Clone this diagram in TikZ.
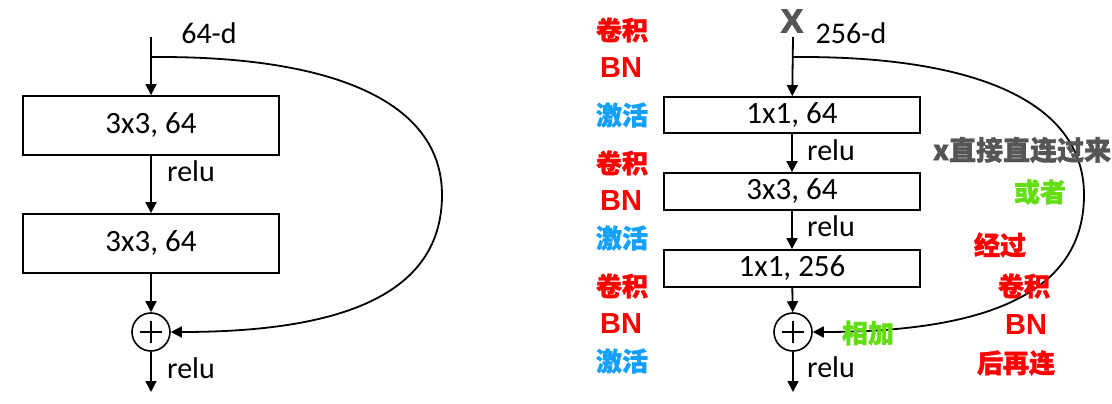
\documentclass[tikz,border=0pt]{standalone}
\usepackage{fontspec}
\setmainfont{Carlito}
\newfontfamily\cjk{Noto Sans CJK SC}[BoldFeatures={FakeBold=1.4}]
\newfontfamily\arialb{Liberation Sans}
\newfontfamily\heavy{Liberation Sans}[BoldFeatures={FakeBold=3}]
\usetikzlibrary{arrows.meta,calc}
\definecolor{ared}{RGB}{255,0,0}
\definecolor{ablue}{RGB}{20,160,255}
\definecolor{agreen}{RGB}{100,222,20}
\definecolor{agray}{RGB}{85,85,85}
\begin{document}
\begin{tikzpicture}[x=1pt,y=-1pt,
  blk/.style={draw,line width=1.8pt,minimum width=256pt,inner sep=0pt,font=\fontsize{31}{33}\selectfont},
  sumc/.style={draw,circle,line width=1.6pt,minimum size=38pt,inner sep=0pt},
  lab/.style={font=\fontsize{30}{32}\selectfont,inner sep=0pt},
  ann/.style={font=\cjk\bfseries\fontsize{26}{28}\selectfont,inner sep=0pt},
  bn/.style={font=\arialb\bfseries\fontsize{29}{31}\selectfont,inner sep=0pt},
  bigx/.style={font=\heavy\bfseries\fontsize{33}{35}\selectfont,inner sep=0pt,text=agray},
  conn/.style={line width=1.8pt,-{Triangle[length=11pt,width=11pt]}},
  curv/.style={line width=1.8pt}]
\useasboundingbox (0,0) rectangle (1112,404);
% ---------- left block ----------
\coordinate (lin) at (151,37);
\coordinate (lbr) at (151,57);
\node[blk,minimum height=59pt] (lb1) at (151,125.5) {3x3, 64};
\node[blk,minimum height=59pt] (lb2) at (151,243.5) {3x3, 64};
\node[sumc] (ls) at (151,332) {};
\coordinate (lout) at (151,392);
\node[lab] (l64) at (209,33) {64-d};
\node[lab] (lr1) at (191,171) {relu};
\node[lab] (lr2) at (191,368) {relu};
\draw[conn] (lin) -- (lb1);
\draw[conn] (lb1) -- (lb2);
\draw[conn] (lb2) -- (ls);
\draw[conn] (ls) -- (lout);
\draw[curv,-{Triangle[length=11pt,width=11pt]}] (lbr) -- (160,57) .. controls (330,57) and (442,100) .. (442,195) .. controls (442,300) and (330,332) .. (ls.east);
\draw[line width=1.6pt] ($(ls.center)+(-11,0)$) -- ($(ls.center)+(11,0)$);
\draw[line width=1.6pt] ($(ls.center)+(0,-11)$) -- ($(ls.center)+(0,11)$);
% ---------- right block ----------
\node[bigx] (X) at (792,21) {X};
\coordinate (rin) at (793,37);
\coordinate (rbr) at (793,57);
\node[blk,minimum height=36pt] (rb1) at (792,115) {1x1, 64};
\node[blk,minimum height=37pt] (rb2) at (792,191.5) {3x3, 64};
\node[blk,minimum height=37pt] (rb3) at (792,268.5) {1x1, 256};
\node[sumc] (rs) at (793,332) {};
\coordinate (rout) at (793,392);
\node[lab] (r256) at (851,33) {256-d};
\node[lab] (rr1) at (831,150) {relu};
\node[lab] (rr2) at (831,226) {relu};
\node[lab] (rr3) at (831,367) {relu};
\draw[conn] (rin) -- (rb1);
\draw[conn] (rb1) -- (rb2);
\draw[conn] (rb2) -- (rb3);
\draw[conn] (rb3) -- (rs);
\draw[conn] (rs) -- (rout);
\draw[curv,-{Triangle[length=11pt,width=11pt]}] (rbr) -- (802,57) .. controls (972,57) and (1084,100) .. (1084,195) .. controls (1084,300) and (972,332) .. (rs.east);
\draw[line width=1.6pt] ($(rs.center)+(-11,0)$) -- ($(rs.center)+(11,0)$);
\draw[line width=1.6pt] ($(rs.center)+(0,-11)$) -- ($(rs.center)+(0,11)$);
% ---------- annotations ----------
\node[ann,text=ared] (a1) at (622,30) {卷积};
\node[bn,text=ared] (a2) at (621,68) {BN};
\node[ann,text=ablue] (a3) at (622,115) {激活};
\node[ann,text=ared] (a4) at (622,163) {卷积};
\node[bn,text=ared] (a5) at (621,201) {BN};
\node[ann,text=ablue] (a6) at (622,238) {激活};
\node[ann,text=ared] (a7) at (622,286) {卷积};
\node[bn,text=ared] (a8) at (621,324) {BN};
\node[ann,text=ablue] (a9) at (622,361) {激活};
\node[ann,text=agreen] (b1) at (868,333) {相加};
\node[ann,text=agray,font=\cjk\bfseries\fontsize{27}{29}\selectfont] (b2) at (1022,150) {x直接直连过来};
\node[ann,text=agreen] (b3) at (1040,192) {或者};
\node[ann,text=ared] (b4) at (1000,245) {经过};
\node[ann,text=ared] (b5) at (1024,286) {卷积};
\node[bn,text=ared] (b6) at (1026,325) {BN};
\node[ann,text=ared] (b7) at (1016,363) {后再连};
\end{tikzpicture}
\end{document}
